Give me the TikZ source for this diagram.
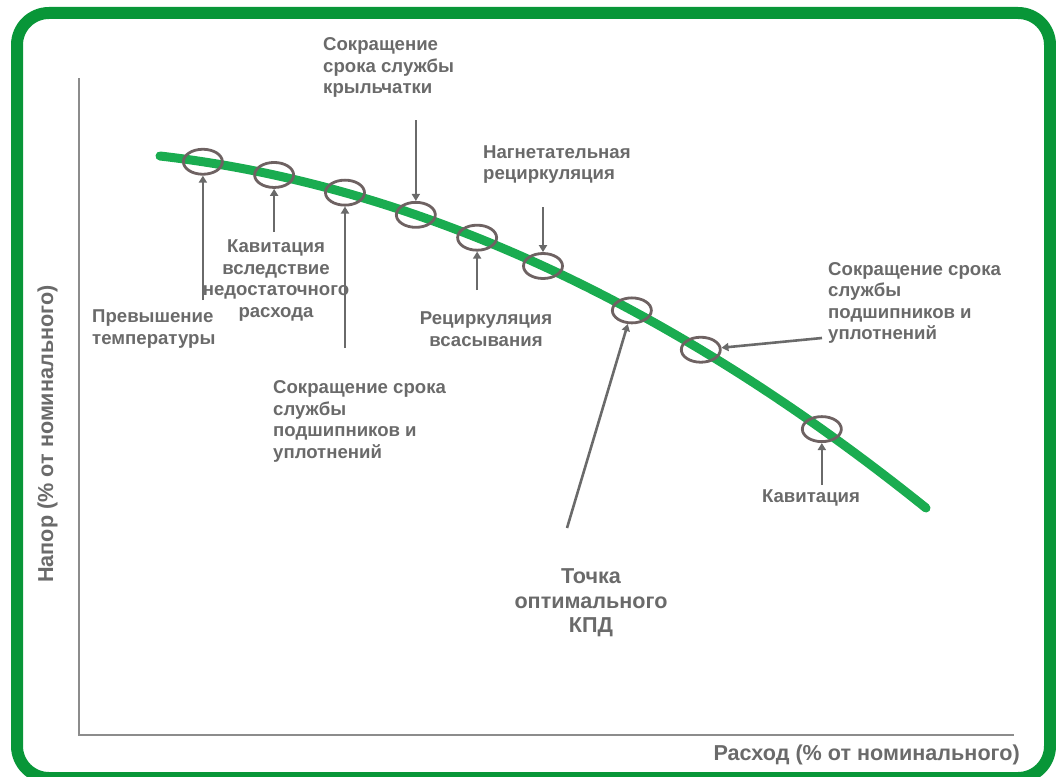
\documentclass[tikz,border=0pt]{standalone}
\usepackage{fontspec}
\setmainfont{Liberation Sans}
\usetikzlibrary{
  arrows.meta,
  shapes.geometric,
  positioning}

\definecolor{framegreen}{RGB}{8,150,56}
\definecolor{curvegreen}{RGB}{26,172,80}
\definecolor{ringgray}{RGB}{110,98,98}
\definecolor{labelgray}{RGB}{106,106,106}
\definecolor{axisgray}{RGB}{140,140,140}

\tikzset{
  lbl/.style={text=labelgray,font=\bfseries\fontsize{18.6}{21.5}\selectfont,inner sep=0pt},
  biglbl/.style={text=labelgray,font=\bfseries\fontsize{21.6}{24.5}\selectfont,inner sep=0pt},
  ring/.style={ellipse,draw=ringgray,line width=2.8,minimum width=39,minimum height=25,inner sep=0pt},
  pointer/.style={draw=labelgray,line width=2.6,-{Triangle[length=7pt,width=8pt]}}
}

\begin{document}
\begin{tikzpicture}[x=1pt,y=-1pt]
\useasboundingbox (0,0) rectangle (1056,776);
\draw[framegreen,line width=12,rounded corners=32] (17,13) rectangle (1050,778);

\draw[axisgray,line width=2] (79,78) -- (79,735) -- (1014,735);

\draw[curvegreen,line width=9,line cap=round] (160,156) .. controls (415.3,185.3) and (670.7,302.7) .. (926,508)
  node[ring,pos=.056] (r1) {}
  node[ring,pos=.149] (r2) {}
  node[ring,pos=.2415] (r3) {}
  node[ring,pos=.334] (r4) {}
  node[ring,pos=.414] (r5) {}
  node[ring,pos=.5] (r6) {}
  node[ring,pos=.616] (r7) {}
  node[ring,pos=.706] (r8) {}
  node[ring,pos=.864] (r9) {};

\node[lbl,anchor=north west,align=left] (impeller) at (323,37.5) {Сокращение\\срока службы\\крыльчатки};
\node[lbl,anchor=north west,align=left] (discharge) at (483,145.5) {Нагнетательная\\рециркуляция};
\node[lbl,anchor=north,align=center] (lowflow) at (276,239.5) {Кавитация\\вследствие\\недостаточного\\расхода};
\node[lbl,anchor=north west,align=left] (heat) at (92,309.5) {Превышение\\температуры};
\node[lbl,anchor=north west,align=left] (bearingsleft) at (273,380.5) {Сокращение срока\\службы\\подшипников и\\уплотнений};
\node[lbl,anchor=north,align=center] (suction) at (486,311.5) {Рециркуляция\\всасывания};
\node[biglbl,anchor=north,align=center] (bep) at (591,568.5) {Точка\\оптимального\\КПД};
\node[lbl,anchor=north] (cavit) at (811,489.5) {Кавитация};
\node[lbl,anchor=north west,align=left] (bearingsright) at (828,262) {Сокращение срока\\службы\\подшипников и\\уплотнений};

\node[biglbl,anchor=base east] (flow) at (1020,760) {Расход (\% от номинального)};
\node[biglbl,anchor=base,rotate=90] (head) at (53,434) {Напор (\% от номинального)};

\coordinate (t1) at (r1 |- 0,300);
\coordinate (t2) at (r2 |- 0,232);
\coordinate (t3) at (r3 |- 0,348);
\coordinate (t4) at (r4 |- 0,120);
\coordinate (t5) at (r5 |- 0,290);
\coordinate (t6) at (r6 |- 0,207);
\coordinate (t7) at (567,528);
\coordinate (t8) at (822,338);
\coordinate (t9) at (r9 |- 0,485);

\foreach \t/\r in {t1/r1,t2/r2,t3/r3,t4/r4,t5/r5,t6/r6,t7/r7,t8/r8,t9/r9}
  \draw[pointer] (\t) -- (\r);
\end{tikzpicture}
\end{document}
